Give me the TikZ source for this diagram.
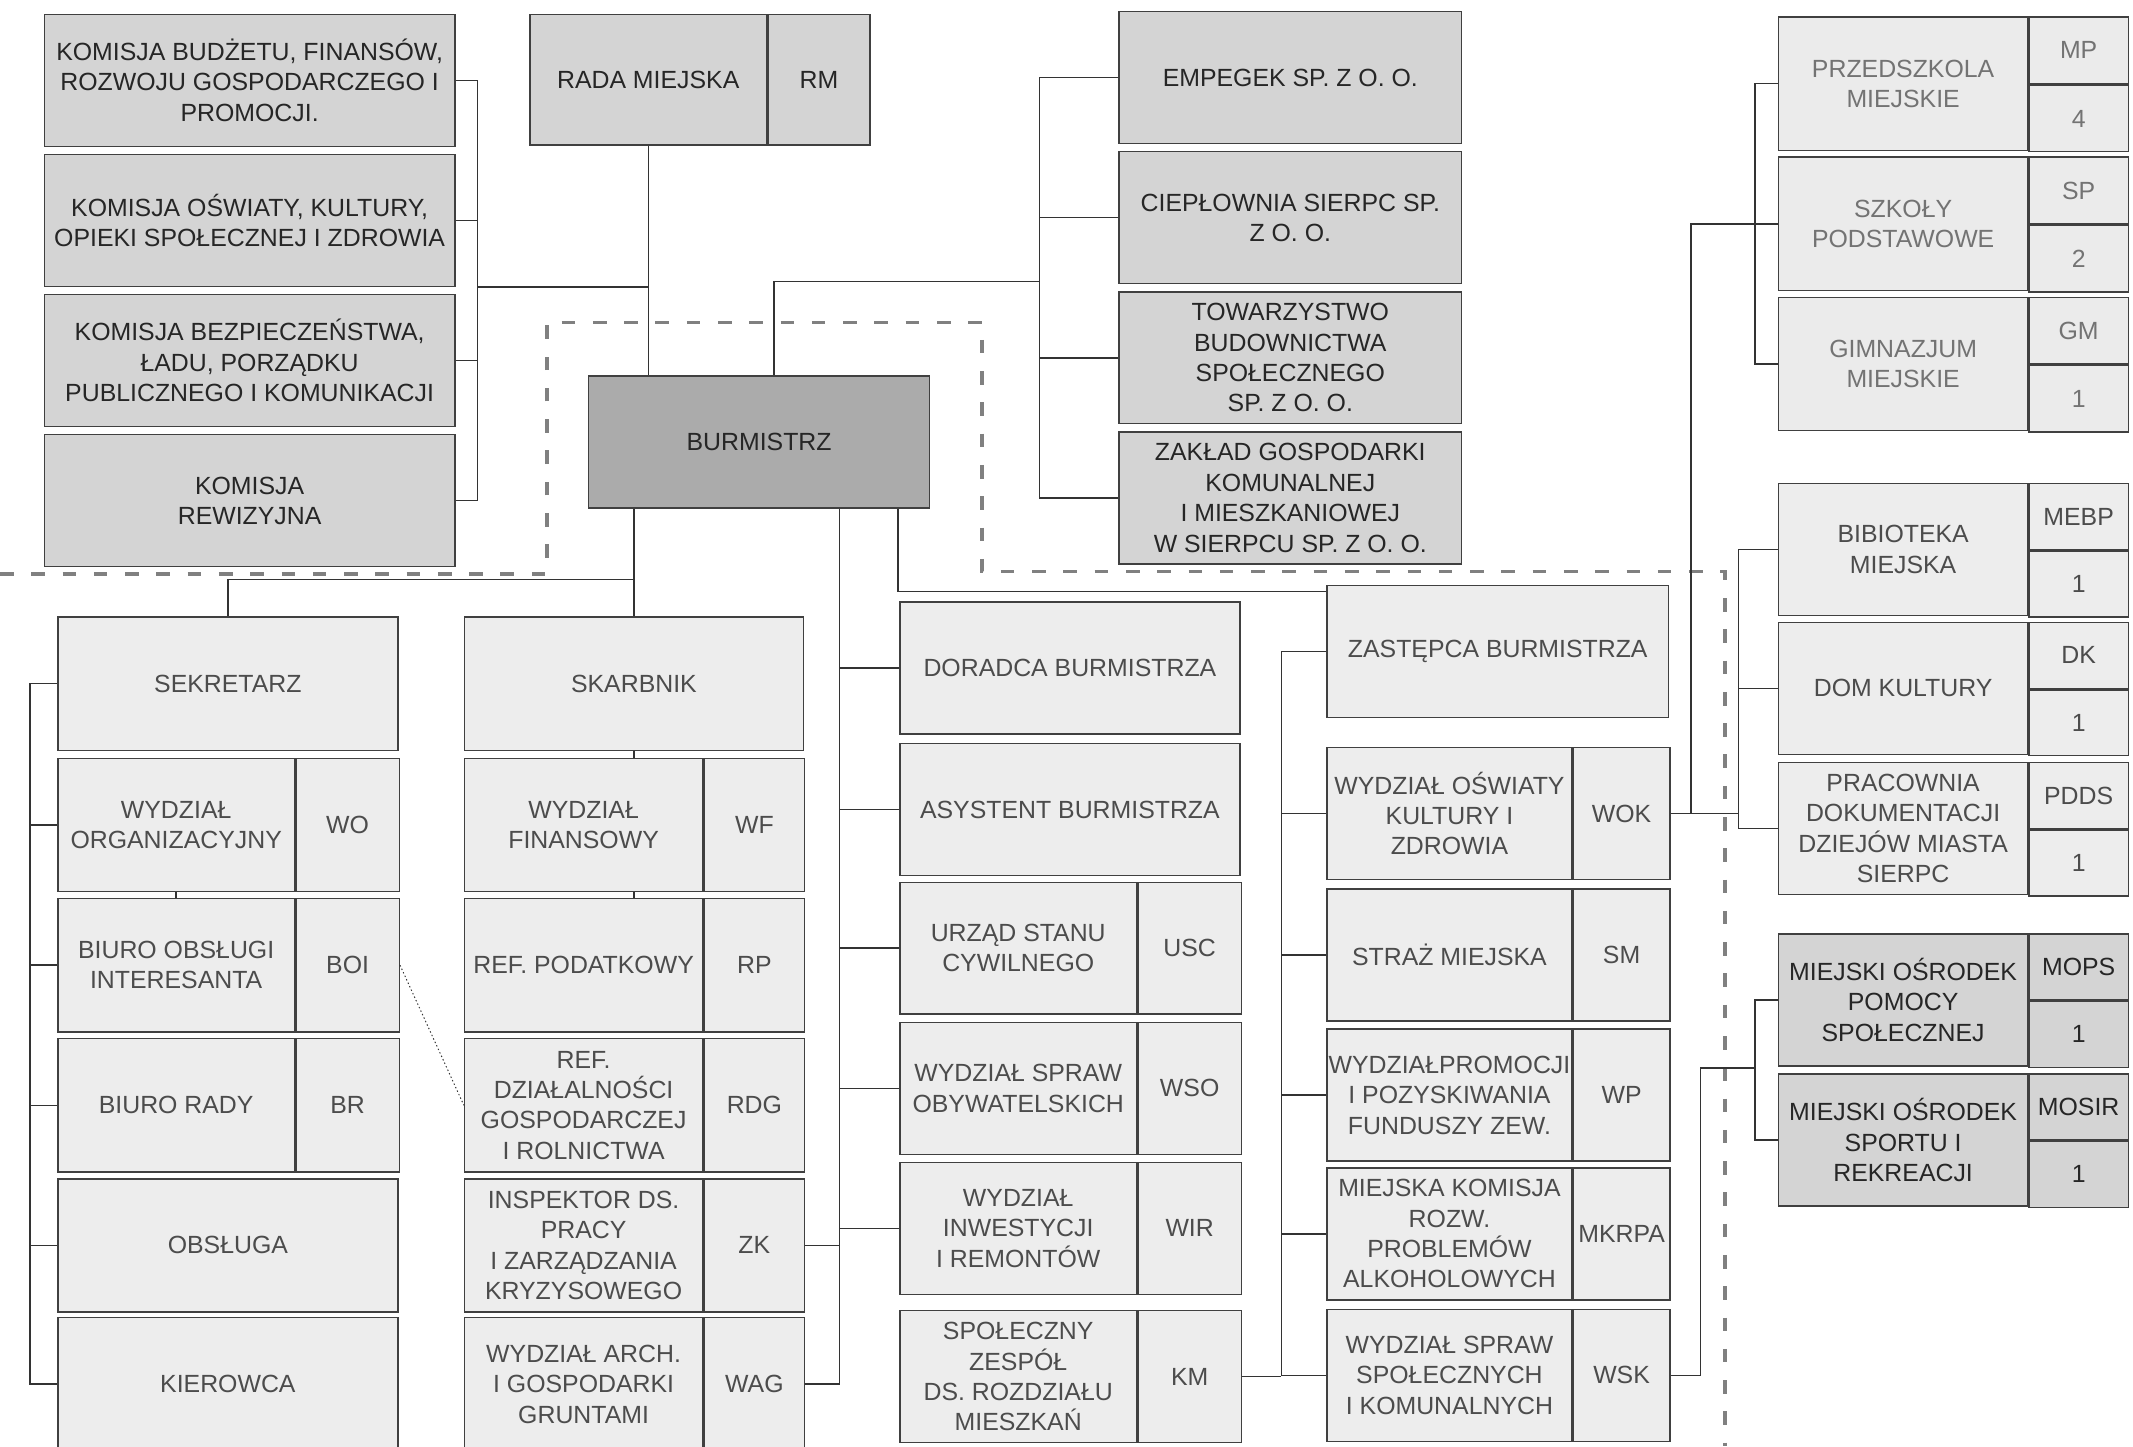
\documentclass[tikz,border=0pt]{standalone}
\usepackage{fontspec}
\setmainfont{Liberation Sans}
\usetikzlibrary{positioning}
\tikzset{box/.style={draw=black!75, line width=0.6pt, anchor=north west, align=center, inner xsep=0.5pt, inner ysep=1pt, font=\fontsize{10.4}{12.7}\selectfont}, dbox/.style={box, fill=black!17, text=black!85}, lbox/.style={box, fill=black!7, text=black!70}, ebox/.style={box, fill=black!8, text=black!55}, bbox/.style={box, fill=black!33, text=black!85}}
\tikzset{link/.style={draw=black!80, line width=0.6pt}, sepline/.style={draw=black!50, line width=1.5pt, dash pattern=on 0.2cm off 0.26cm}}

\begin{document}
\begin{tikzpicture}[x=0.02cm,y=-0.02cm]
   \useasboundingbox (0,0) rectangle (1568,1063);
   \node[dbox, minimum width=6.04cm, minimum height=1.94cm] (kbud) at (32,10) {KOMISJA BUDŻETU, FINANSÓW,\\ROZWOJU GOSPODARCZEGO I\\PROMOCJI.};
   \node[dbox, minimum width=6.04cm, minimum height=1.94cm] (kosw) at (32,113) {KOMISJA OŚWIATY, KULTURY,\\OPIEKI SPOŁECZNEJ I ZDROWIA};
   \node[dbox, minimum width=6.04cm, minimum height=1.94cm] (kbez) at (32,216) {KOMISJA BEZPIECZEŃSTWA,\\ŁADU, PORZĄDKU\\PUBLICZNEGO I KOMUNIKACJI};
   \node[dbox, minimum width=6.04cm, minimum height=1.94cm] (krew) at (32,319) {KOMISJA\\REWIZYJNA};
   \node[dbox, minimum width=3.48cm, minimum height=1.92cm] (rada) at (389,10) {RADA MIEJSKA};
   \node[dbox, minimum width=1.5cm, minimum height=1.92cm] (radac) at (rada.north east) {RM};
   \node[bbox, minimum width=5.02cm, minimum height=1.94cm] (burm) at (432,276) {BURMISTRZ};
   \node[dbox, minimum width=5.04cm, minimum height=1.94cm] (empegek) at (822,8) {EMPEGEK SP. Z O. O.};
   \node[dbox, minimum width=5.04cm, minimum height=1.94cm] (ciepl) at (822,111) {CIEPŁOWNIA SIERPC SP.\\Z O. O.};
   \node[dbox, minimum width=5.04cm, minimum height=1.94cm] (tbs) at (822,214) {TOWARZYSTWO\\BUDOWNICTWA\\SPOŁECZNEGO\\SP. Z O. O.};
   \node[dbox, minimum width=5.04cm, minimum height=1.94cm] (zgkim) at (822,317) {ZAKŁAD GOSPODARKI\\KOMUNALNEJ\\I MIESZKANIOWEJ\\W SIERPCU SP. Z O. O.};
   \node[ebox, minimum width=3.66cm, minimum height=1.96cm] (prz) at (1307,12) {PRZEDSZKOLA\\MIEJSKIE};
   \node[ebox, minimum width=1.46cm, minimum height=0.98cm] (przc) at (prz.north east) {MP};
   \node[ebox, minimum width=1.46cm, minimum height=0.98cm] (przn) at (przc.south west) {4};
   \node[ebox, minimum width=3.66cm, minimum height=1.96cm] (szk) at (1307,115) {SZKOŁY\\PODSTAWOWE};
   \node[ebox, minimum width=1.46cm, minimum height=0.98cm] (szkc) at (szk.north east) {SP};
   \node[ebox, minimum width=1.46cm, minimum height=0.98cm] (szkn) at (szkc.south west) {2};
   \node[ebox, minimum width=3.66cm, minimum height=1.96cm] (gim) at (1307,218) {GIMNAZJUM\\MIEJSKIE};
   \node[ebox, minimum width=1.46cm, minimum height=0.98cm] (gimc) at (gim.north east) {GM};
   \node[ebox, minimum width=1.46cm, minimum height=0.98cm] (gimn) at (gimc.south west) {1};
   \node[lbox, minimum width=3.66cm, minimum height=1.94cm] (bib) at (1307,355) {BIBIOTEKA\\MIEJSKA};
   \node[lbox, minimum width=1.46cm, minimum height=0.97cm] (bibc) at (bib.north east) {MEBP};
   \node[lbox, minimum width=1.46cm, minimum height=0.97cm] (bibn) at (bibc.south west) {1};
   \node[lbox, minimum width=3.66cm, minimum height=1.94cm] (dk) at (1307,457) {DOM KULTURY};
   \node[lbox, minimum width=1.46cm, minimum height=0.97cm] (dkc) at (dk.north east) {DK};
   \node[lbox, minimum width=1.46cm, minimum height=0.97cm] (dkn) at (dkc.south west) {1};
   \node[lbox, minimum width=3.66cm, minimum height=1.94cm] (pdds) at (1307,560) {PRACOWNIA\\DOKUMENTACJI\\DZIEJÓW MIASTA\\SIERPC};
   \node[lbox, minimum width=1.46cm, minimum height=0.97cm] (pddsc) at (pdds.north east) {PDDS};
   \node[lbox, minimum width=1.46cm, minimum height=0.97cm] (pddsn) at (pddsc.south west) {1};
   \node[dbox, minimum width=3.66cm, minimum height=1.94cm] (mops) at (1307,686) {MIEJSKI OŚRODEK\\POMOCY\\SPOŁECZNEJ};
   \node[dbox, minimum width=1.46cm, minimum height=0.97cm] (mopsc) at (mops.north east) {MOPS};
   \node[dbox, minimum width=1.46cm, minimum height=0.97cm] (mopsn) at (mopsc.south west) {1};
   \node[dbox, minimum width=3.66cm, minimum height=1.94cm] (mosir) at (1307,789) {MIEJSKI OŚRODEK\\SPORTU I\\REKREACJI};
   \node[dbox, minimum width=1.46cm, minimum height=0.97cm] (mosirc) at (mosir.north east) {MOSIR};
   \node[dbox, minimum width=1.46cm, minimum height=0.97cm] (mosirn) at (mosirc.south west) {1};
   \node[lbox, minimum width=5cm, minimum height=1.96cm] (sekr) at (42,453) {SEKRETARZ};
   \node[lbox, minimum width=3.48cm, minimum height=1.96cm] (worg) at (42,557) {WYDZIAŁ\\ORGANIZACYJNY};
   \node[lbox, minimum width=1.52cm, minimum height=1.96cm] (wo) at (worg.north east) {WO};
   \node[lbox, minimum width=3.48cm, minimum height=1.96cm] (boi) at (42,660) {BIURO OBSŁUGI\\INTERESANTA};
   \node[lbox, minimum width=1.52cm, minimum height=1.96cm] (boic) at (boi.north east) {BOI};
   \node[lbox, minimum width=3.48cm, minimum height=1.96cm] (br) at (42,763) {BIURO RADY};
   \node[lbox, minimum width=1.52cm, minimum height=1.96cm] (brc) at (br.north east) {BR};
   \node[lbox, minimum width=5cm, minimum height=1.96cm] (obsl) at (42,866) {OBSŁUGA};
   \node[lbox, minimum width=5cm, minimum height=1.96cm] (kier) at (42,968) {KIEROWCA};
   \node[lbox, minimum width=4.98cm, minimum height=1.96cm] (skarb) at (341,453) {SKARBNIK};
   \node[lbox, minimum width=3.5cm, minimum height=1.96cm] (wfin) at (341,557) {WYDZIAŁ\\FINANSOWY};
   \node[lbox, minimum width=1.48cm, minimum height=1.96cm] (wf) at (wfin.north east) {WF};
   \node[lbox, minimum width=3.5cm, minimum height=1.96cm] (rpod) at (341,660) {REF. PODATKOWY};
   \node[lbox, minimum width=1.48cm, minimum height=1.96cm] (rp) at (rpod.north east) {RP};
   \node[lbox, minimum width=3.5cm, minimum height=1.96cm] (rdg) at (341,763) {REF.\\DZIAŁALNOŚCI\\GOSPODARCZEJ\\I ROLNICTWA};
   \node[lbox, minimum width=1.48cm, minimum height=1.96cm] (rdgc) at (rdg.north east) {RDG};
   \node[lbox, minimum width=3.5cm, minimum height=1.96cm] (zk) at (341,866) {INSPEKTOR DS.\\PRACY\\I ZARZĄDZANIA\\KRYZYSOWEGO};
   \node[lbox, minimum width=1.48cm, minimum height=1.96cm] (zkc) at (zk.north east) {ZK};
   \node[lbox, minimum width=3.5cm, minimum height=1.96cm] (wag) at (341,968) {WYDZIAŁ ARCH.\\I GOSPODARKI\\GRUNTAMI};
   \node[lbox, minimum width=1.48cm, minimum height=1.96cm] (wagc) at (wag.north east) {WAG};
   \node[lbox, minimum width=5cm, minimum height=1.94cm] (dor) at (661,442) {DORADCA BURMISTRZA};
   \node[lbox, minimum width=5cm, minimum height=1.94cm] (asy) at (661,546) {ASYSTENT BURMISTRZA};
   \node[lbox, minimum width=3.48cm, minimum height=1.94cm] (usc) at (661,648) {URZĄD STANU\\CYWILNEGO};
   \node[lbox, minimum width=1.52cm, minimum height=1.94cm] (uscc) at (usc.north east) {USC};
   \node[lbox, minimum width=3.48cm, minimum height=1.94cm] (wso) at (661,751) {WYDZIAŁ SPRAW\\OBYWATELSKICH};
   \node[lbox, minimum width=1.52cm, minimum height=1.94cm] (wsoc) at (wso.north east) {WSO};
   \node[lbox, minimum width=3.48cm, minimum height=1.94cm] (wir) at (661,854) {WYDZIAŁ\\INWESTYCJI\\I REMONTÓW};
   \node[lbox, minimum width=1.52cm, minimum height=1.94cm] (wirc) at (wir.north east) {WIR};
   \node[lbox, minimum width=3.48cm, minimum height=1.94cm] (km) at (661,963) {SPOŁECZNY\\ZESPÓŁ\\DS. ROZDZIAŁU\\MIESZKAŃ};
   \node[lbox, minimum width=1.52cm, minimum height=1.94cm] (kmc) at (km.north east) {KM};
   \node[lbox, minimum width=5.02cm, minimum height=1.94cm] (zast) at (975,430) {ZASTĘPCA BURMISTRZA};
   \node[lbox, minimum width=3.6cm, minimum height=1.94cm] (wok) at (975,549) {WYDZIAŁ OŚWIATY\\KULTURY I\\ZDROWIA};
   \node[lbox, minimum width=1.42cm, minimum height=1.94cm] (wokc) at (wok.north east) {WOK};
   \node[lbox, minimum width=3.6cm, minimum height=1.94cm] (sm) at (975,653) {STRAŻ MIEJSKA};
   \node[lbox, minimum width=1.42cm, minimum height=1.94cm] (smc) at (sm.north east) {SM};
   \node[lbox, minimum width=3.6cm, minimum height=1.94cm] (wp) at (975,756) {WYDZIAŁPROMOCJI\\I POZYSKIWANIA\\FUNDUSZY ZEW.};
   \node[lbox, minimum width=1.42cm, minimum height=1.94cm] (wpc) at (wp.north east) {WP};
   \node[lbox, minimum width=3.6cm, minimum height=1.94cm] (mkrpa) at (975,858) {MIEJSKA KOMISJA\\ROZW.\\PROBLEMÓW\\ALKOHOLOWYCH};
   \node[lbox, minimum width=1.42cm, minimum height=1.94cm] (mkrpac) at (mkrpa.north east) {MKRPA};
   \node[lbox, minimum width=3.6cm, minimum height=1.94cm] (wsk) at (975,962) {WYDZIAŁ SPRAW\\SPOŁECZNYCH\\I KOMUNALNYCH};
   \node[lbox, minimum width=1.42cm, minimum height=1.94cm] (wskc) at (wsk.north east) {WSK};
   \coordinate (kb) at (351,0);
   \coordinate (kj) at (351,211);
   \coordinate (bt) at (569,0);
   \coordinate (fb) at (764,0);
   \coordinate (fj) at (764,207);
   \coordinate (split) at (465,426);
   \coordinate (lb) at (22,0);
   \coordinate (db) at (617,0);
   \coordinate (bz) at (660,0);
   \coordinate (zb) at (942,0);
   \coordinate (ub) at (1243,0);
   \coordinate (wb) at (1250,0);
   \coordinate (cb) at (1278,0);
   \coordinate (eb) at (1290,0);
   \coordinate (sj) at (1290,785);
   \draw[sepline] (0,422) -- (402,422) -- (402,237) -- (722,237) -- (722,420) -- (1268,420) -- (1268,1063);
   \draw[link] (rada.south) -- (rada.south |- burm.north);
   \draw[link] (kbud.east) -| (kb |- krew.east) -- (krew.east);
   \draw[link] (kosw.east) -- (kosw.east -| kb);
   \draw[link] (kbez.east) -- (kbez.east -| kb);
   \draw[link] (kj) -- (kj -| rada.south);
   \draw[link] (burm.north -| bt) |- (fj);
   \draw[link] (empegek.west) -| (fb |- zgkim.west) -- (zgkim.west);
   \draw[link] (ciepl.west) -- (ciepl.west -| fb);
   \draw[link] (tbs.west) -- (tbs.west -| fb);
   \draw[link] (burm.south -| skarb.north) -- (skarb.north);
   \draw[link] (sekr.north) |- (split);
   \draw[link] (worg.south) -- (boi.north);
   \draw[link] (skarb.south) -- (skarb.south |- wfin.north);
   \draw[link] (skarb.south |- wfin.south) -- (skarb.south |- rpod.north);
   \draw[link] (sekr.west) -- (sekr.west -| lb) -- (kier.west -| lb) -- (kier.west);
   \draw[link] (worg.west) -- (worg.west -| lb);
   \draw[link] (boi.west) -- (boi.west -| lb);
   \draw[link] (br.west) -- (br.west -| lb);
   \draw[link] (obsl.west) -- (obsl.west -| lb);
   \draw[link, densely dotted, line width=0.4pt] (boic.east) -- (rdg.west);
   \draw[link] (burm.south -| db) -- (wagc.east -| db) -- (wagc.east);
   \draw[link] (zkc.east) -- (zkc.east -| db);
   \draw[link] (dor.west) -- (dor.west -| db);
   \draw[link] (asy.west) -- (asy.west -| db);
   \draw[link] (usc.west) -- (usc.west -| db);
   \draw[link] (wso.west) -- (wso.west -| db);
   \draw[link] (wir.west) -- (wir.west -| db);
   \draw[link] (burm.south -| bz) |- ([yshift=-0.1cm]zast.north west);
   \draw[link] (zast.west) -| (zb |- wsk.west) -- (wsk.west);
   \draw[link] (wok.west) -- (wok.west -| zb);
   \draw[link] (sm.west) -- (sm.west -| zb);
   \draw[link] (wp.west) -- (wp.west -| zb);
   \draw[link] (mkrpa.west) -- (mkrpa.west -| zb);
   \draw[link] (kmc.east) -- (kmc.east -| zb);
   \draw[link] (wokc.east) -- (wokc.east -| cb);
   \draw[link] (wokc.east -| ub) |- (szk.west);
   \draw[link] (bib.west) -| (cb |- pdds.west) -- (pdds.west);
   \draw[link] (dk.west) -- (dk.west -| cb);
   \draw[link] (prz.west) -| (eb |- gim.west) -- (gim.west);
   \draw[link] (wskc.east) -| (wb |- sj) -- (sj);
   \draw[link] (mops.west) -| (eb |- mosir.west) -- (mosir.west);
  \end{tikzpicture}
\end{document}
